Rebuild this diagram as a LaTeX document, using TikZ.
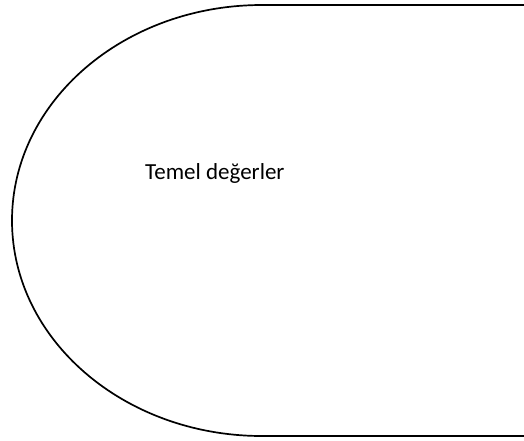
\documentclass[tikz,border=0pt]{standalone}
\usepackage{fontspec}
\setmainfont{Carlito}
\usetikzlibrary{positioning}
\tikzset{
outline/.style={draw=black, line width=1.7pt},
caption/.style={font=\fontsize{23}{27}\selectfont, inner sep=0pt, anchor=base west},
}
\begin{document}
\begin{tikzpicture}[x=1pt,y=-1pt]
            \useasboundingbox (0,0) rectangle (524,440);
            \coordinate (top)    at (262,5);
            \coordinate (bottom) at (262,436);
            \draw[outline] (530,5) -- (top)
                arc[start angle=-90, end angle=-270, x radius=250, y radius=215.5]
                -- (530,436);
            \node[caption] (values) at (145,179) {Temel değerler};
        \end{tikzpicture}
\end{document}
